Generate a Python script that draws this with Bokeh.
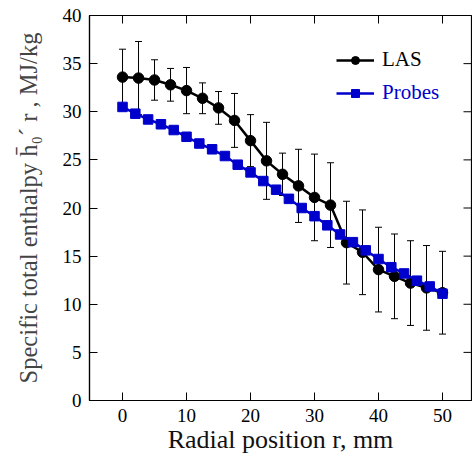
from bokeh.plotting import figure
from bokeh.models import (ColumnDataSource, Whisker, TeeHead, Range1d,
                          Legend, LegendItem, FixedTicker)
from bokeh.embed import file_html
from bokeh.resources import INLINE

# LAS measurements (r in mm, enthalpy in MJ/kg, error half-width)
las_r = [0, 2.5, 5, 7.5, 10, 12.5, 15, 17.5, 20, 22.5, 25, 27.5, 30, 32.5, 35, 37.5, 40, 42.5, 45, 47.5, 50]
las_h = [33.6, 33.5, 33.3, 32.8, 32.2, 31.4, 30.4, 29.1, 27.0, 24.9, 23.5, 22.3, 21.1, 20.3, 16.4, 15.4, 13.6, 12.9, 12.2, 11.7, 11.2]
las_err = [2.9, 3.8, 2.1, 1.7, 2.4, 1.6, 1.7, 2.8, 2.7, 4.0, 2.2, 3.8, 4.5, 4.4, 4.3, 4.4, 4.4, 4.4, 4.4, 4.4, 4.3]

# Probe measurements
probe_r = [0, 2, 4, 6, 8, 10, 12, 14, 16, 18, 20, 22, 24, 26, 28, 30, 32, 34, 36, 38, 40, 42, 44, 46, 48, 50]
probe_h = [30.5, 29.8, 29.2, 28.7, 28.1, 27.4, 26.7, 26.1, 25.4, 24.5, 23.7, 22.8, 21.9, 20.95, 20.0, 19.15, 18.2, 17.25, 16.45, 15.6, 14.7, 13.85, 13.2, 12.45, 11.85, 11.1]

x_ticks = [0, 10, 20, 30, 40, 50]
y_ticks = [0, 5, 10, 15, 20, 25, 30, 35, 40]

x_title = "Radial position r, mm"
y_title = "Specific total enthalpy h\u0304\u2080\u00b4 r , MJ/kg"

BLUE = "#0000cc"
FONT = "Liberation Serif"

# frame geometry in pixels (layout only)
FRAME_L, FRAME_R, FRAME_T, FRAME_B = 89, 471, 15, 400
X_LO, X_HI = -5.16, 54.53
Y_LO, Y_HI = 0, 40
TICK = 8  # px

XPX = (X_HI - X_LO) / (FRAME_R - FRAME_L)  # data units per px
YPX = (Y_HI - Y_LO) / (FRAME_B - FRAME_T)

las_src = ColumnDataSource(dict(
    r=las_r, h=las_h,
    up=[h + e for h, e in zip(las_h, las_err)],
    lo=[h - e for h, e in zip(las_h, las_err)],
))
probe_src = ColumnDataSource(dict(r=probe_r, h=probe_h))

p = figure(width=472, height=464, output_backend="svg", toolbar_location=None,
           x_range=Range1d(X_LO, X_HI), y_range=Range1d(Y_LO, Y_HI),
           min_border_left=FRAME_L, min_border_right=472 - FRAME_R,
           min_border_top=FRAME_T, min_border_bottom=464 - FRAME_B)
p.grid.visible = False
p.outline_line_color = "black"
p.outline_line_width = 1.2

# mirrored inward ticks on top and right edges
p.segment(x0=x_ticks, x1=x_ticks, y0=[Y_HI] * len(x_ticks),
          y1=[Y_HI - TICK * YPX] * len(x_ticks), line_color="black", line_width=1)
p.segment(x0=[X_HI] * len(y_ticks), x1=[X_HI - TICK * XPX] * len(y_ticks),
          y0=y_ticks, y1=y_ticks, line_color="black", line_width=1)

# error bars
w = Whisker(source=las_src, base="r", upper="up", lower="lo",
            line_color="black", line_width=1,
            upper_head=TeeHead(size=7, line_color="black", line_width=1),
            lower_head=TeeHead(size=7, line_color="black", line_width=1))
p.add_layout(w)

l1 = p.line("r", "h", source=las_src, line_color="black", line_width=2.5)
c1 = p.scatter("r", "h", source=las_src, marker="circle", size=10.5,
               fill_color="black", line_color="black")
l2 = p.line("r", "h", source=probe_src, line_color=BLUE, line_width=2.5)
c2 = p.scatter("r", "h", source=probe_src, marker="square", size=9.5,
               fill_color=BLUE, line_color=BLUE)

def style_axis(ax, ticks):
    ax.ticker = FixedTicker(ticks=ticks)
    ax.minor_tick_line_color = None
    ax.major_tick_in = TICK
    ax.major_tick_out = 0
    ax.major_tick_line_color = "black"
    ax.axis_line_color = "black"
    ax.axis_line_width = 1.2
    ax.major_label_text_font = FONT
    ax.major_label_text_color = "black"
    ax.major_label_text_font_size = "19px"
    ax.axis_label_text_font = FONT
    ax.axis_label_text_font_style = "normal"

xa = p.xaxis[0]
style_axis(xa, x_ticks)
xa.major_label_standoff = 8
xa.axis_label = x_title
xa.axis_label_text_font_size = "26px"
xa.axis_label_text_color = "#111111"
xa.axis_label_standoff = 0

ya = p.yaxis[0]
style_axis(ya, y_ticks)
ya.major_label_standoff = 8
ya.axis_label = y_title
ya.axis_label_text_font_size = "24.5px"
ya.axis_label_text_color = "#444444"
ya.axis_label_standoff = 18

def make_legend(label, renderers, color, loc):
    lg = Legend(items=[LegendItem(label=label, renderers=renderers)], location=loc,
                glyph_width=38, glyph_height=20, label_standoff=8, padding=0, margin=0,
                spacing=0, border_line_color=None, background_fill_alpha=0,
                label_text_font=FONT, label_text_font_size="21px", label_text_color=color)
    p.add_layout(lg, "center")

make_legend("LAS", [l1, c1], "black", (247, 328))
make_legend("Probes", [l2, c2], BLUE, (247, 295))

open("out.html", "w").write(file_html(p, INLINE))
